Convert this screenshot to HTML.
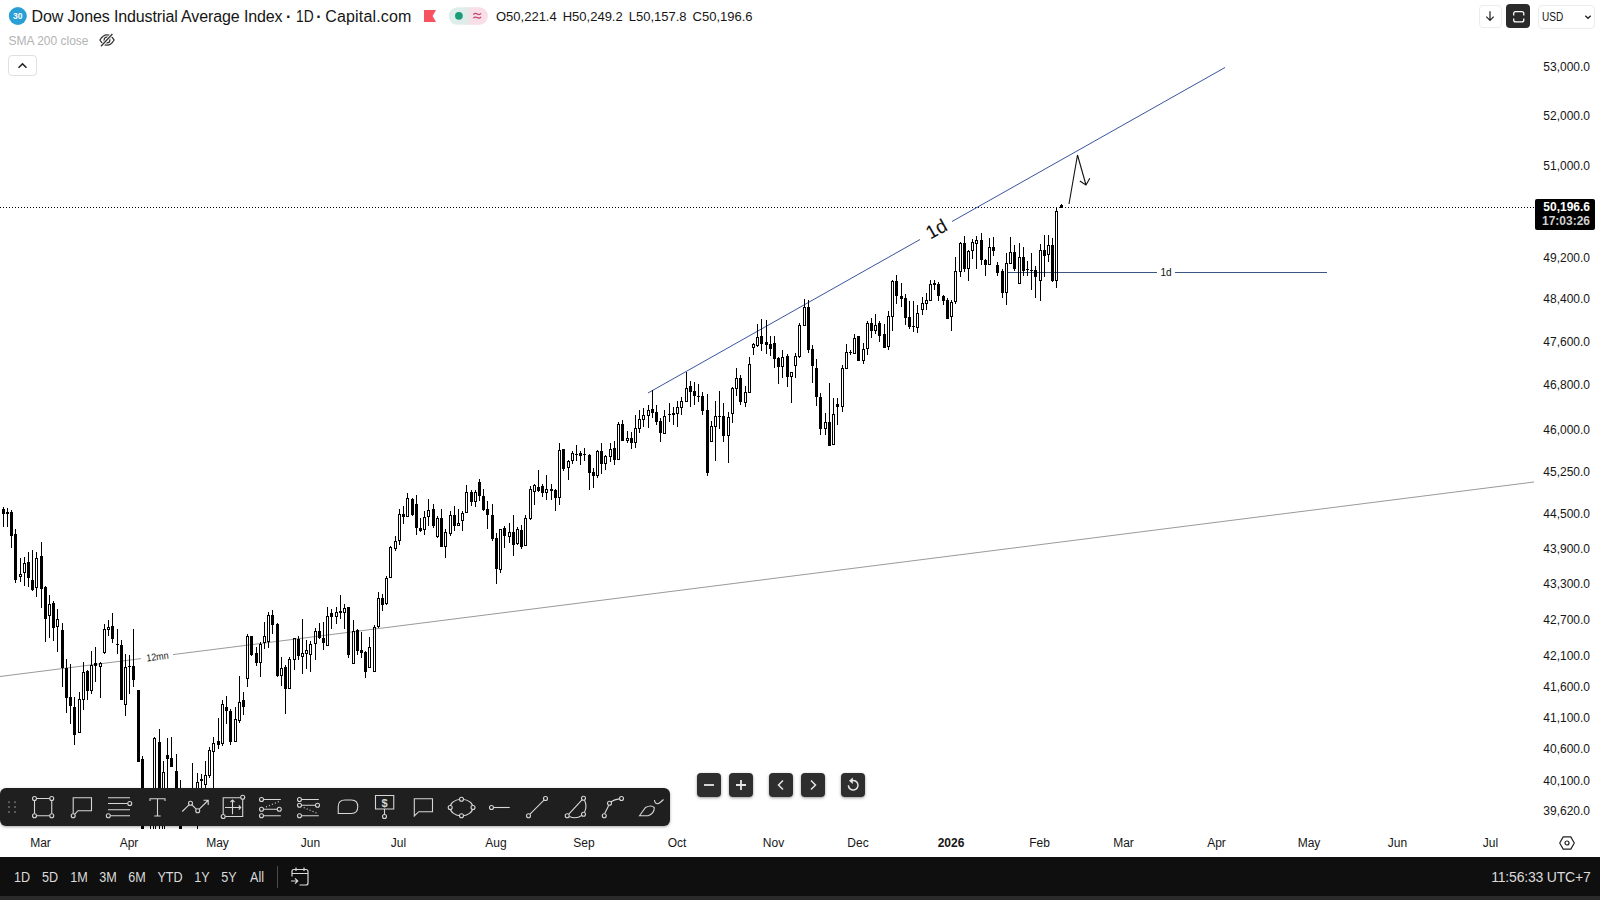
<!DOCTYPE html>
<html><head><meta charset="utf-8"><title>Dow Jones Industrial Average Index</title>
<style>
*{box-sizing:border-box;margin:0;padding:0}
html,body{width:1600px;height:900px;overflow:hidden;background:#fff}
body{position:relative;font-family:"Liberation Sans",sans-serif;color:#161616}
.abs{position:absolute}
#chart{position:absolute;left:0;top:0;width:1535px;height:829px;overflow:hidden}
.pl{position:absolute;left:1535px;width:55px;text-align:right;font-size:12px;line-height:16px;height:16px;color:#161616;white-space:nowrap}
.tl{position:absolute;top:835px;width:60px;text-align:center;font-size:12px;line-height:16px;color:#161616;white-space:nowrap}
.tl.b{font-weight:bold}
.rg{position:absolute;top:867px;width:40px;text-align:center;transform:scaleX(.9);font-size:14px;line-height:20px;color:#dbdbdb;white-space:nowrap}
#title span{position:absolute;top:0}
#title{position:absolute;left:0;top:7px;font-size:16px;line-height:20px;white-space:nowrap;color:#161616}
#ohlc{position:absolute;left:496px;top:9px;font-size:13px;line-height:16px;white-space:nowrap;color:#161616}
#ohlc span{margin-right:6px}
#sma{position:absolute;left:8.5px;top:33px;font-size:12px;line-height:16px;white-space:nowrap;color:#b3b3b3}
#bottom{position:absolute;left:0;top:857px;width:1600px;height:39px;background:#0f0f0f}
#strip{position:absolute;left:0;top:896px;width:1600px;height:4px;background:#2b2b2b}
#clock{position:absolute;right:9.5px;letter-spacing:-.2px;top:867px;font-size:14px;line-height:20px;color:#dbdbdb;white-space:nowrap}
#toolbar{position:absolute;left:0;top:788px;width:670px;height:38px;background:#1f1f1f;border-radius:6px;box-shadow:0 1px 3px rgba(0,0,0,.35)}
.zb{position:absolute;top:773px;width:24px;height:24px;border-radius:4px;background:#2e2e2e;box-shadow:0 1px 3px rgba(0,0,0,.4)}
#plabel{position:absolute;left:1535px;top:199px;width:60px;height:31px;background:#000;border-radius:2px;color:#fff;font-size:12px;font-weight:bold;text-align:right;padding-right:5px;line-height:14px;padding-top:.5px}
#plabel .t2{color:#d0d0d0}
.tb{position:absolute;border:1px solid #e0e0e0;border-radius:4px;background:#fff}
</style></head><body>
<svg id="chart" width="1535" height="829" viewBox="0 0 1535 829">
<path d="M0 207.5H1535" stroke="#000" stroke-width="1" stroke-dasharray="1 2" shape-rendering="crispEdges"/>
<path d="M1007 272.5H1156.5M1175 272.5H1326.5" stroke="#3a587f" stroke-width="1" shape-rendering="crispEdges"/>
<path d="M0 676.5L141 658.6M173 654.6L1534 482" stroke="#9a9a9a" stroke-width="1" fill="none"/>
<path d="M648 393L920 239.5M952 221.5L1225 67.5" stroke="#3a55a0" stroke-width="1" fill="none"/>
<g shape-rendering="crispEdges"><path d="M3 507h1v20h-1zM2 509h3v5h-3zM7 508h1v19h-1zM6 512h3v2h-3zM11 510h1v38h-1zM10 512h3v24h-3zM15 529h1v54h-1zM14 534h3v46h-3zM20 558h1v16h-1zM20 577h1v5h-1zM19 574h3v1h-3zM19 576h3v1h-3zM19 575h1v1h-1zM21 575h1v1h-1zM24 557h1v6h-1zM24 573h1v13h-1zM23 563h3v1h-3zM23 572h3v1h-3zM23 564h1v8h-1zM25 564h1v8h-1zM28 552h1v35h-1zM27 562h3v16h-3zM32 550h1v41h-1zM31 580h3v10h-3zM36 552h1v6h-1zM36 588h1v9h-1zM35 558h3v1h-3zM35 587h3v1h-3zM35 559h1v28h-1zM37 559h1v28h-1zM41 542h1v66h-1zM40 556h3v33h-3zM45 586h1v56h-1zM44 587h3v32h-3zM49 595h1v9h-1zM49 616h1v22h-1zM48 604h3v1h-3zM48 615h3v1h-3zM48 605h1v10h-1zM50 605h1v10h-1zM53 601h1v40h-1zM52 603h3v25h-3zM57 609h1v10h-1zM57 627h1v25h-1zM56 619h3v1h-3zM56 626h3v1h-3zM56 620h1v6h-1zM58 620h1v6h-1zM62 623h1v64h-1zM61 630h3v38h-3zM66 659h1v54h-1zM65 668h3v30h-3zM70 664h1v60h-1zM69 697h3v9h-3zM74 697h1v48h-1zM73 707h3v28h-3zM79 692h1v7h-1zM78 699h3v1h-3zM78 732h3v1h-3zM78 700h1v32h-1zM80 700h1v32h-1zM83 662h1v10h-1zM83 700h1v10h-1zM82 672h3v1h-3zM82 699h3v1h-3zM82 673h1v26h-1zM84 673h1v26h-1zM87 670h1v30h-1zM86 671h3v20h-3zM91 651h1v14h-1zM91 691h1v3h-1zM90 665h3v1h-3zM90 690h3v1h-3zM90 666h1v24h-1zM92 666h1v24h-1zM95 647h1v35h-1zM94 663h3v3h-3zM100 662h1v1h-1zM100 667h1v31h-1zM99 663h3v1h-3zM99 666h3v1h-3zM99 664h1v2h-1zM101 664h1v2h-1zM104 624h1v5h-1zM104 653h1v1h-1zM103 629h3v1h-3zM103 652h3v1h-3zM103 630h1v22h-1zM105 630h1v22h-1zM108 620h1v7h-1zM108 630h1v6h-1zM107 627h3v1h-3zM107 629h3v1h-3zM107 628h1v1h-1zM109 628h1v1h-1zM112 613h1v30h-1zM111 626h3v13h-3zM117 629h1v25h-1zM116 644h3v1h-3zM121 640h1v60h-1zM120 645h3v55h-3zM125 654h1v13h-1zM125 705h1v11h-1zM124 667h3v1h-3zM124 704h3v1h-3zM124 668h1v36h-1zM126 668h1v36h-1zM129 655h1v39h-1zM128 666h3v1h-3zM133 629h1v58h-1zM132 666h3v14h-3zM138 690h1v72h-1zM137 690h3v72h-3zM142 756h1v79h-1zM141 759h3v76h-3zM146 795h1v27h-1zM145 800h3v20h-3zM150 790h1v10h-1zM150 822h1v13h-1zM149 800h3v1h-3zM149 821h3v1h-3zM149 801h1v20h-1zM151 801h1v20h-1zM154 737h1v1h-1zM153 738h3v1h-3zM153 834h3v1h-3zM153 739h1v95h-1zM155 739h1v95h-1zM159 729h1v106h-1zM158 742h3v76h-3zM163 761h1v11h-1zM162 772h3v1h-3zM162 834h3v1h-3zM162 773h1v61h-1zM164 773h1v61h-1zM167 738h1v72h-1zM166 755h3v4h-3zM171 737h1v30h-1zM170 758h3v9h-3zM176 754h1v70h-1zM175 771h3v49h-3zM180 780h1v55h-1zM179 795h3v40h-3zM184 795h1v5h-1zM184 818h1v4h-1zM183 800h3v1h-3zM183 817h3v1h-3zM183 801h1v16h-1zM185 801h1v16h-1zM188 795h1v27h-1zM187 800h3v18h-3zM192 763h1v37h-1zM192 820h1v4h-1zM191 800h3v1h-3zM191 819h3v1h-3zM191 801h1v18h-1zM193 801h1v18h-1zM197 773h1v9h-1zM197 820h1v15h-1zM196 782h3v1h-3zM196 819h3v1h-3zM196 783h1v36h-1zM198 783h1v36h-1zM201 774h1v36h-1zM200 779h3v2h-3zM205 761h1v14h-1zM205 785h1v20h-1zM204 775h3v1h-3zM204 784h3v1h-3zM204 776h1v8h-1zM206 776h1v8h-1zM209 747h1v3h-1zM209 776h1v2h-1zM208 750h3v1h-3zM208 775h3v1h-3zM208 751h1v24h-1zM210 751h1v24h-1zM213 737h1v6h-1zM213 752h1v48h-1zM212 743h3v1h-3zM212 751h3v1h-3zM212 744h1v7h-1zM214 744h1v7h-1zM218 718h1v31h-1zM217 741h3v4h-3zM222 700h1v4h-1zM222 744h1v2h-1zM221 704h3v1h-3zM221 743h3v1h-3zM221 705h1v38h-1zM223 705h1v38h-1zM226 696h1v28h-1zM225 707h3v4h-3zM230 709h1v36h-1zM229 711h3v31h-3zM235 707h1v12h-1zM234 719h3v1h-3zM234 741h3v1h-3zM234 720h1v21h-1zM236 720h1v21h-1zM239 676h1v26h-1zM239 721h1v2h-1zM238 702h3v1h-3zM238 720h3v1h-3zM238 703h1v17h-1zM240 703h1v17h-1zM243 692h1v23h-1zM242 700h3v7h-3zM247 634h1v2h-1zM247 679h1v8h-1zM246 636h3v1h-3zM246 678h3v1h-3zM246 637h1v41h-1zM248 637h1v41h-1zM251 636h1v20h-1zM250 636h3v19h-3zM256 647h1v19h-1zM255 653h3v10h-3zM260 642h1v2h-1zM260 663h1v14h-1zM259 644h3v1h-3zM259 662h3v1h-3zM259 645h1v17h-1zM261 645h1v17h-1zM264 622h1v14h-1zM264 643h1v6h-1zM263 636h3v1h-3zM263 642h3v1h-3zM263 637h1v5h-1zM265 637h1v5h-1zM268 612h1v3h-1zM268 642h1v6h-1zM267 615h3v1h-3zM267 641h3v1h-3zM267 616h1v25h-1zM269 616h1v25h-1zM272 610h1v24h-1zM271 615h3v10h-3zM277 623h1v54h-1zM276 624h3v52h-3zM281 657h1v11h-1zM281 676h1v10h-1zM280 668h3v1h-3zM280 675h3v1h-3zM280 669h1v6h-1zM282 669h1v6h-1zM285 665h1v49h-1zM284 667h3v22h-3zM289 657h1v2h-1zM288 659h3v1h-3zM288 688h3v1h-3zM288 660h1v28h-1zM290 660h1v28h-1zM294 660h1v10h-1zM293 638h3v1h-3zM293 659h3v1h-3zM293 639h1v20h-1zM295 639h1v20h-1zM298 636h1v24h-1zM297 639h3v17h-3zM302 619h1v34h-1zM302 657h1v17h-1zM301 653h3v1h-3zM301 656h3v1h-3zM301 654h1v2h-1zM303 654h1v2h-1zM306 640h1v10h-1zM306 654h1v15h-1zM305 650h3v1h-3zM305 653h3v1h-3zM305 651h1v2h-1zM307 651h1v2h-1zM310 641h1v3h-1zM310 655h1v17h-1zM309 644h3v1h-3zM309 654h3v1h-3zM309 645h1v9h-1zM311 645h1v9h-1zM315 628h1v3h-1zM315 644h1v16h-1zM314 631h3v1h-3zM314 643h3v1h-3zM314 632h1v11h-1zM316 632h1v11h-1zM319 623h1v16h-1zM318 631h3v7h-3zM323 622h1v28h-1zM322 638h3v5h-3zM327 607h1v9h-1zM326 616h3v1h-3zM326 645h3v1h-3zM326 617h1v28h-1zM328 617h1v28h-1zM331 609h1v20h-1zM330 613h3v4h-3zM336 607h1v5h-1zM336 617h1v7h-1zM335 612h3v1h-3zM335 616h3v1h-3zM335 613h1v3h-1zM337 613h1v3h-1zM340 595h1v24h-1zM339 611h3v2h-3zM344 604h1v4h-1zM344 613h1v16h-1zM343 608h3v1h-3zM343 612h3v1h-3zM343 609h1v3h-1zM345 609h1v3h-1zM348 607h1v51h-1zM347 607h3v48h-3zM353 620h1v11h-1zM352 631h3v1h-3zM352 663h3v1h-3zM352 632h1v31h-1zM354 632h1v31h-1zM357 629h1v26h-1zM356 630h3v21h-3zM361 632h1v26h-1zM360 650h3v3h-3zM365 651h1v27h-1zM364 652h3v20h-3zM369 637h1v10h-1zM368 647h3v1h-3zM368 667h3v1h-3zM368 648h1v19h-1zM370 648h1v19h-1zM374 625h1v2h-1zM373 627h3v1h-3zM373 671h3v1h-3zM373 628h1v43h-1zM375 628h1v43h-1zM378 592h1v6h-1zM378 627h1v1h-1zM377 598h3v1h-3zM377 626h3v1h-3zM377 599h1v27h-1zM379 599h1v27h-1zM382 594h1v17h-1zM381 598h3v7h-3zM386 576h1v2h-1zM386 604h1v1h-1zM385 578h3v1h-3zM385 603h3v1h-3zM385 579h1v24h-1zM387 579h1v24h-1zM390 546h1v1h-1zM389 547h3v1h-3zM389 577h3v1h-3zM389 548h1v29h-1zM391 548h1v29h-1zM395 536h1v5h-1zM395 549h1v2h-1zM394 541h3v1h-3zM394 548h3v1h-3zM394 542h1v6h-1zM396 542h1v6h-1zM399 509h1v5h-1zM399 541h1v4h-1zM398 514h3v1h-3zM398 540h3v1h-3zM398 515h1v25h-1zM400 515h1v25h-1zM403 506h1v18h-1zM402 514h3v3h-3zM407 493h1v5h-1zM406 498h3v1h-3zM406 516h3v1h-3zM406 499h1v17h-1zM408 499h1v17h-1zM412 498h1v18h-1zM411 499h3v16h-3zM416 495h1v40h-1zM415 504h3v24h-3zM420 518h1v14h-1zM419 528h3v3h-3zM424 511h1v6h-1zM424 530h1v5h-1zM423 517h3v1h-3zM423 529h3v1h-3zM423 518h1v11h-1zM425 518h1v11h-1zM428 499h1v11h-1zM428 517h1v9h-1zM427 510h3v1h-3zM427 516h3v1h-3zM427 511h1v5h-1zM429 511h1v5h-1zM433 504h1v24h-1zM432 509h3v17h-3zM437 516h1v2h-1zM437 537h1v1h-1zM436 518h3v1h-3zM436 536h3v1h-3zM436 519h1v17h-1zM438 519h1v17h-1zM441 509h1v38h-1zM440 518h3v29h-3zM445 529h1v3h-1zM445 547h1v11h-1zM444 532h3v1h-3zM444 546h3v1h-3zM444 533h1v13h-1zM446 533h1v13h-1zM450 511h1v4h-1zM450 534h1v2h-1zM449 515h3v1h-3zM449 533h3v1h-3zM449 516h1v17h-1zM451 516h1v17h-1zM454 506h1v25h-1zM453 515h3v11h-3zM458 509h1v14h-1zM457 523h3v1h-3zM457 525h3v1h-3zM457 524h1v1h-1zM459 524h1v1h-1zM462 511h1v2h-1zM462 521h1v10h-1zM461 513h3v1h-3zM461 520h3v1h-3zM461 514h1v6h-1zM463 514h1v6h-1zM466 485h1v7h-1zM465 492h3v1h-3zM465 512h3v1h-3zM465 493h1v19h-1zM467 493h1v19h-1zM471 490h1v16h-1zM470 492h3v10h-3zM475 490h1v2h-1zM475 502h1v5h-1zM474 492h3v1h-3zM474 501h3v1h-3zM474 493h1v8h-1zM476 493h1v8h-1zM479 479h1v22h-1zM478 482h3v14h-3zM483 489h1v22h-1zM482 496h3v14h-3zM487 501h1v28h-1zM486 509h3v6h-3zM492 504h1v37h-1zM491 515h3v24h-3zM496 533h1v51h-1zM495 538h3v31h-3zM500 570h1v3h-1zM499 529h3v1h-3zM499 569h3v1h-3zM499 530h1v39h-1zM501 530h1v39h-1zM504 526h1v22h-1zM503 528h3v8h-3zM509 523h1v9h-1zM509 537h1v6h-1zM508 532h3v1h-3zM508 536h3v1h-3zM508 533h1v3h-1zM510 533h1v3h-1zM513 515h1v41h-1zM512 532h3v13h-3zM517 527h1v2h-1zM517 544h1v1h-1zM516 529h3v1h-3zM516 543h3v1h-3zM516 530h1v13h-1zM518 530h1v13h-1zM521 525h1v24h-1zM520 530h3v17h-3zM525 515h1v3h-1zM524 518h3v1h-3zM524 545h3v1h-3zM524 519h1v26h-1zM526 519h1v26h-1zM530 486h1v3h-1zM530 519h1v1h-1zM529 489h3v1h-3zM529 518h3v1h-3zM529 490h1v28h-1zM531 490h1v28h-1zM534 484h1v1h-1zM534 492h1v13h-1zM533 485h3v1h-3zM533 491h3v1h-3zM533 486h1v5h-1zM535 486h1v5h-1zM538 470h1v22h-1zM537 487h3v4h-3zM542 484h1v13h-1zM541 486h3v7h-3zM546 475h1v14h-1zM546 493h1v7h-1zM545 489h3v1h-3zM545 492h3v1h-3zM545 490h1v2h-1zM547 490h1v2h-1zM551 484h1v16h-1zM550 489h3v2h-3zM555 489h1v22h-1zM554 490h3v8h-3zM559 443h1v7h-1zM559 498h1v7h-1zM558 450h3v1h-3zM558 497h3v1h-3zM558 451h1v46h-1zM560 451h1v46h-1zM563 449h1v22h-1zM562 449h3v20h-3zM568 460h1v1h-1zM568 468h1v12h-1zM567 461h3v1h-3zM567 467h3v1h-3zM567 462h1v5h-1zM569 462h1v5h-1zM572 451h1v2h-1zM572 461h1v3h-1zM571 453h3v1h-3zM571 460h3v1h-3zM571 454h1v6h-1zM573 454h1v6h-1zM576 445h1v16h-1zM575 454h3v1h-3zM580 451h1v14h-1zM579 453h3v3h-3zM584 448h1v13h-1zM583 454h3v1h-3zM589 454h1v36h-1zM588 455h3v18h-3zM593 468h1v20h-1zM592 472h3v4h-3zM597 450h1v1h-1zM597 476h1v2h-1zM596 451h3v1h-3zM596 475h3v1h-3zM596 452h1v23h-1zM598 452h1v23h-1zM601 443h1v31h-1zM600 451h3v13h-3zM605 455h1v1h-1zM605 464h1v6h-1zM604 456h3v1h-3zM604 463h3v1h-3zM604 457h1v6h-1zM606 457h1v6h-1zM610 443h1v6h-1zM610 457h1v5h-1zM609 449h3v1h-3zM609 456h3v1h-3zM609 450h1v6h-1zM611 450h1v6h-1zM614 441h1v24h-1zM613 448h3v12h-3zM618 422h1v2h-1zM617 424h3v1h-3zM617 459h3v1h-3zM617 425h1v34h-1zM619 425h1v34h-1zM622 420h1v21h-1zM621 424h3v17h-3zM627 431h1v7h-1zM627 441h1v2h-1zM626 438h3v1h-3zM626 440h3v1h-3zM626 439h1v1h-1zM628 439h1v1h-1zM631 432h1v17h-1zM630 438h3v5h-3zM635 415h1v13h-1zM635 443h1v5h-1zM634 428h3v1h-3zM634 442h3v1h-3zM634 429h1v13h-1zM636 429h1v13h-1zM639 410h1v9h-1zM639 429h1v4h-1zM638 419h3v1h-3zM638 428h3v1h-3zM638 420h1v8h-1zM640 420h1v8h-1zM643 408h1v7h-1zM643 420h1v7h-1zM642 415h3v1h-3zM642 419h3v1h-3zM642 416h1v3h-1zM644 416h1v3h-1zM648 405h1v5h-1zM648 416h1v12h-1zM647 410h3v1h-3zM647 415h3v1h-3zM647 411h1v4h-1zM649 411h1v4h-1zM652 390h1v28h-1zM651 409h3v4h-3zM656 405h1v20h-1zM655 412h3v10h-3zM660 418h1v24h-1zM659 421h3v12h-3zM664 410h1v6h-1zM663 416h3v1h-3zM663 433h3v1h-3zM663 417h1v16h-1zM665 417h1v16h-1zM669 403h1v19h-1zM668 414h3v1h-3zM673 407h1v18h-1zM672 413h3v2h-3zM677 401h1v6h-1zM677 414h1v13h-1zM676 407h3v1h-3zM676 413h3v1h-3zM676 408h1v5h-1zM678 408h1v5h-1zM681 397h1v4h-1zM681 408h1v7h-1zM680 401h3v1h-3zM680 407h3v1h-3zM680 402h1v5h-1zM682 402h1v5h-1zM686 372h1v16h-1zM685 388h3v1h-3zM685 401h3v1h-3zM685 389h1v12h-1zM687 389h1v12h-1zM690 381h1v26h-1zM689 386h3v6h-3zM694 382h1v23h-1zM693 391h3v5h-3zM698 384h1v18h-1zM697 396h3v1h-3zM702 392h1v23h-1zM701 396h3v15h-3zM707 394h1v82h-1zM706 410h3v63h-3zM711 421h1v5h-1zM710 426h3v1h-3zM710 441h3v1h-3zM710 427h1v14h-1zM712 427h1v14h-1zM715 401h1v15h-1zM715 427h1v34h-1zM714 416h3v1h-3zM714 426h3v1h-3zM714 417h1v9h-1zM716 417h1v9h-1zM719 391h1v38h-1zM718 416h3v1h-3zM723 403h1v39h-1zM722 416h3v20h-3zM728 412h1v5h-1zM728 436h1v27h-1zM727 417h3v1h-3zM727 435h3v1h-3zM727 418h1v17h-1zM729 418h1v17h-1zM732 387h1v1h-1zM732 414h1v9h-1zM731 388h3v1h-3zM731 413h3v1h-3zM731 389h1v24h-1zM733 389h1v24h-1zM736 368h1v10h-1zM736 389h1v7h-1zM735 378h3v1h-3zM735 388h3v1h-3zM735 379h1v9h-1zM737 379h1v9h-1zM740 375h1v30h-1zM739 378h3v24h-3zM745 386h1v6h-1zM745 403h1v4h-1zM744 392h3v1h-3zM744 402h3v1h-3zM744 393h1v9h-1zM746 393h1v9h-1zM749 357h1v7h-1zM748 364h3v1h-3zM748 392h3v1h-3zM748 365h1v27h-1zM750 365h1v27h-1zM753 343h1v1h-1zM753 348h1v7h-1zM752 344h3v1h-3zM752 347h3v1h-3zM752 345h1v2h-1zM754 345h1v2h-1zM757 324h1v13h-1zM757 346h1v1h-1zM756 337h3v1h-3zM756 345h3v1h-3zM756 338h1v7h-1zM758 338h1v7h-1zM761 319h1v32h-1zM760 336h3v8h-3zM766 320h1v34h-1zM765 342h3v3h-3zM770 336h1v20h-1zM769 344h3v5h-3zM774 336h1v32h-1zM773 343h3v16h-3zM778 357h1v27h-1zM777 358h3v9h-3zM782 350h1v7h-1zM782 367h1v11h-1zM781 357h3v1h-3zM781 366h3v1h-3zM781 358h1v8h-1zM783 358h1v8h-1zM787 354h1v33h-1zM786 356h3v21h-3zM791 377h1v26h-1zM790 372h3v1h-3zM790 376h3v1h-3zM790 373h1v3h-1zM792 373h1v3h-1zM795 353h1v3h-1zM795 366h1v12h-1zM794 356h3v1h-3zM794 365h3v1h-3zM794 357h1v8h-1zM796 357h1v8h-1zM799 323h1v2h-1zM799 357h1v1h-1zM798 325h3v1h-3zM798 356h3v1h-3zM798 326h1v30h-1zM800 326h1v30h-1zM804 299h1v8h-1zM803 307h3v1h-3zM803 325h3v1h-3zM803 308h1v17h-1zM805 308h1v17h-1zM808 300h1v53h-1zM807 307h3v43h-3zM812 345h1v38h-1zM811 349h3v17h-3zM816 359h1v47h-1zM815 368h3v29h-3zM820 393h1v42h-1zM819 397h3v32h-3zM825 413h1v9h-1zM825 429h1v6h-1zM824 422h3v1h-3zM824 428h3v1h-3zM824 423h1v5h-1zM826 423h1v5h-1zM829 383h1v63h-1zM828 422h3v24h-3zM833 398h1v16h-1zM832 414h3v1h-3zM832 444h3v1h-3zM832 415h1v29h-1zM834 415h1v29h-1zM837 398h1v27h-1zM836 404h3v3h-3zM842 365h1v3h-1zM842 407h1v5h-1zM841 368h3v1h-3zM841 406h3v1h-3zM841 369h1v37h-1zM843 369h1v37h-1zM846 344h1v8h-1zM845 352h3v1h-3zM845 368h3v1h-3zM845 353h1v15h-1zM847 353h1v15h-1zM850 350h1v5h-1zM849 352h3v1h-3zM854 334h1v4h-1zM853 338h3v1h-3zM853 353h3v1h-3zM853 339h1v14h-1zM855 339h1v14h-1zM858 336h1v25h-1zM857 336h3v25h-3zM863 343h1v6h-1zM863 361h1v3h-1zM862 349h3v1h-3zM862 360h3v1h-3zM862 350h1v10h-1zM864 350h1v10h-1zM867 321h1v2h-1zM867 349h1v6h-1zM866 323h3v1h-3zM866 348h3v1h-3zM866 324h1v24h-1zM868 324h1v24h-1zM871 318h1v20h-1zM870 323h3v8h-3zM875 314h1v11h-1zM875 331h1v3h-1zM874 325h3v1h-3zM874 330h3v1h-3zM874 326h1v4h-1zM876 326h1v4h-1zM879 321h1v21h-1zM878 323h3v13h-3zM884 324h1v24h-1zM883 334h3v14h-3zM888 311h1v5h-1zM888 347h1v3h-1zM887 316h3v1h-3zM887 346h3v1h-3zM887 317h1v29h-1zM889 317h1v29h-1zM892 280h1v1h-1zM892 317h1v14h-1zM891 281h3v1h-3zM891 316h3v1h-3zM891 282h1v34h-1zM893 282h1v34h-1zM896 275h1v29h-1zM895 281h3v15h-3zM901 283h1v24h-1zM900 296h3v3h-3zM905 294h1v31h-1zM904 298h3v20h-3zM909 301h1v28h-1zM908 317h3v10h-3zM913 301h1v31h-1zM912 326h3v1h-3zM917 305h1v8h-1zM917 328h1v5h-1zM916 313h3v1h-3zM916 327h3v1h-3zM916 314h1v13h-1zM918 314h1v13h-1zM922 297h1v6h-1zM922 310h1v5h-1zM921 303h3v1h-3zM921 309h3v1h-3zM921 304h1v5h-1zM923 304h1v5h-1zM926 293h1v7h-1zM926 304h1v6h-1zM925 300h3v1h-3zM925 303h3v1h-3zM925 301h1v2h-1zM927 301h1v2h-1zM930 280h1v4h-1zM929 284h3v1h-3zM929 300h3v1h-3zM929 285h1v15h-1zM931 285h1v15h-1zM934 280h1v10h-1zM933 283h3v2h-3zM938 282h1v19h-1zM937 284h3v12h-3zM943 295h1v10h-1zM942 296h3v5h-3zM947 298h1v21h-1zM946 300h3v19h-3zM951 300h1v2h-1zM951 317h1v14h-1zM950 302h3v1h-3zM950 316h3v1h-3zM950 303h1v13h-1zM952 303h1v13h-1zM955 257h1v14h-1zM955 302h1v2h-1zM954 271h3v1h-3zM954 301h3v1h-3zM954 272h1v29h-1zM956 272h1v29h-1zM960 242h1v1h-1zM960 272h1v5h-1zM959 243h3v1h-3zM959 271h3v1h-3zM959 244h1v27h-1zM961 244h1v27h-1zM964 236h1v36h-1zM963 243h3v26h-3zM968 250h1v1h-1zM968 269h1v12h-1zM967 251h3v1h-3zM967 268h3v1h-3zM967 252h1v16h-1zM969 252h1v16h-1zM972 239h1v3h-1zM972 251h1v8h-1zM971 242h3v1h-3zM971 250h3v1h-3zM971 243h1v7h-1zM973 243h1v7h-1zM976 236h1v4h-1zM976 244h1v25h-1zM975 240h3v1h-3zM975 243h3v1h-3zM975 241h1v2h-1zM977 241h1v2h-1zM981 233h1v32h-1zM980 240h3v20h-3zM985 259h1v17h-1zM984 260h3v5h-3zM989 238h1v9h-1zM988 247h3v1h-3zM988 264h3v1h-3zM988 248h1v16h-1zM990 248h1v16h-1zM993 237h1v19h-1zM992 247h3v4h-3zM997 262h1v14h-1zM996 265h3v8h-3zM1002 269h1v29h-1zM1001 271h3v22h-3zM1006 253h1v10h-1zM1006 293h1v12h-1zM1005 263h3v1h-3zM1005 292h3v1h-3zM1005 264h1v28h-1zM1007 264h1v28h-1zM1010 237h1v15h-1zM1009 252h3v1h-3zM1009 263h3v1h-3zM1009 253h1v10h-1zM1011 253h1v10h-1zM1014 245h1v26h-1zM1013 252h3v17h-3zM1019 243h1v14h-1zM1018 257h3v1h-3zM1018 283h3v1h-3zM1018 258h1v25h-1zM1020 258h1v25h-1zM1023 247h1v29h-1zM1022 257h3v14h-3zM1027 261h1v15h-1zM1026 269h3v1h-3zM1031 253h1v37h-1zM1030 270h3v1h-3zM1035 266h1v32h-1zM1034 270h3v7h-3zM1040 244h1v6h-1zM1040 281h1v20h-1zM1039 250h3v1h-3zM1039 280h3v1h-3zM1039 251h1v29h-1zM1041 251h1v29h-1zM1044 235h1v42h-1zM1043 250h3v6h-3zM1048 235h1v10h-1zM1048 255h1v7h-1zM1047 245h3v1h-3zM1047 254h3v1h-3zM1047 246h1v8h-1zM1049 246h1v8h-1zM1052 238h1v44h-1zM1051 245h3v36h-3zM1056 208h1v3h-1zM1056 281h1v7h-1zM1055 211h3v1h-3zM1055 280h3v1h-3zM1055 212h1v68h-1zM1057 212h1v68h-1zM1061 204h1v4h-1zM1060 205h3v3h-3z" fill="#000"/></g>
<path d="M1069 204L1077.5 155L1086 185M1079.8 181L1086 185L1089.8 178.2" stroke="#111" stroke-width="1.1" fill="none" stroke-linejoin="miter"/>
<text x="936.3" y="229" font-family="Liberation Sans, sans-serif" font-size="19" fill="#111" text-anchor="middle" dominant-baseline="central" transform="rotate(-29.4 936.3 229)">1d</text>
<text x="157.4" y="656.6" font-family="Liberation Sans, sans-serif" font-size="10" fill="#222" text-anchor="middle" dominant-baseline="central" textLength="22.5" lengthAdjust="spacingAndGlyphs" transform="rotate(-7.2 157.4 656.6)">12mn</text>
<text x="1166" y="272.8" font-family="Liberation Sans, sans-serif" font-size="10" fill="#111" text-anchor="middle" dominant-baseline="central">1d</text>
</svg>

<div class="pl" style="top:59px">53,000.0</div><div class="pl" style="top:108px">52,000.0</div><div class="pl" style="top:158px">51,000.0</div><div class="pl" style="top:250px">49,200.0</div><div class="pl" style="top:291px">48,400.0</div><div class="pl" style="top:334px">47,600.0</div><div class="pl" style="top:377px">46,800.0</div><div class="pl" style="top:422px">46,000.0</div><div class="pl" style="top:464px">45,250.0</div><div class="pl" style="top:506px">44,500.0</div><div class="pl" style="top:541px">43,900.0</div><div class="pl" style="top:576px">43,300.0</div><div class="pl" style="top:612px">42,700.0</div><div class="pl" style="top:648px">42,100.0</div><div class="pl" style="top:679px">41,600.0</div><div class="pl" style="top:710px">41,100.0</div><div class="pl" style="top:741px">40,600.0</div><div class="pl" style="top:773px">40,100.0</div><div class="pl" style="top:803px">39,620.0</div>
<div id="plabel"><div>50,196.6</div><div class="t2">17:03:26</div></div>

<!-- header -->
<svg class="abs" style="left:8px;top:6px" width="20" height="20" viewBox="0 0 20 20"><circle cx="9.8" cy="10" r="9" fill="#2a9fd6"/><text x="9.8" y="10.3" font-family="Liberation Sans, sans-serif" font-size="8.5" font-weight="bold" fill="#fff" text-anchor="middle" dominant-baseline="central">30</text></svg>
<div id="title"><span style="left:31.5px;letter-spacing:-.118px">Dow Jones Industrial Average Index</span><span style="left:286px;font-weight:bold">·</span><span style="left:295.5px;transform:scaleX(.86);transform-origin:0 0">1D</span><span style="left:316.3px;font-weight:bold">·</span><span style="left:325.2px;letter-spacing:.17px">Capital.com</span></div>
<svg class="abs" style="left:424px;top:10px" width="12" height="12" viewBox="0 0 12 12"><path d="M0 0H12L8.6 6L12 12H0z" fill="#f7525f"/></svg>
<svg class="abs" style="left:448px;top:7px" width="41" height="18" viewBox="0 0 41 18"><defs><linearGradient id="pg" x1="0" x2="1" y1="0" y2="0"><stop offset="0" stop-color="#dcefeb"/><stop offset=".42" stop-color="#e0ecea"/><stop offset=".58" stop-color="#f6dfe7"/><stop offset="1" stop-color="#fbdde7"/></linearGradient></defs><rect x=".7" y=".2" width="39.2" height="17.6" rx="8.8" fill="url(#pg)"/><circle cx="10.9" cy="8.8" r="3.9" fill="#1a9c78"/><path d="M25.3 7.6q1.9-2 3.9-.6t3.9-.6M25.3 11.2q1.9-2 3.9-.6t3.9-.6" stroke="#c2456f" stroke-width="1.2" fill="none"/></svg>
<div id="ohlc"><span>O50,221.4</span><span>H50,249.2</span><span>L50,157.8</span><span>C50,196.6</span></div>
<div id="sma">SMA 200 close</div>
<svg class="abs" style="left:98px;top:32px" width="19" height="16" viewBox="0 0 19 16"><path d="M1.9 8Q5 2.8 9 2.8T16.1 8Q13 13.2 9 13.2T1.9 8z" stroke="#333" stroke-width="1.3" fill="none"/><circle cx="9" cy="8" r="2.9" stroke="#333" stroke-width="1.2" fill="none"/><path d="M3.2 14.3L14.600 1.700" stroke="#fff" stroke-width="3.2"/><path d="M3 14.200L14.400 2" stroke="#333" stroke-width="1.3"/></svg>
<div class="tb" style="left:8px;top:55px;width:29px;height:21px"></div>
<svg class="abs" style="left:8px;top:55px" width="29" height="21" viewBox="0 0 29 21"><path d="M10.5 12.700L14.5 8.900L18.500 12.700" stroke="#222" stroke-width="1.5" fill="none"/></svg>

<!-- top right -->
<div class="tb" style="left:1478.500px;top:4.500px;width:23px;height:23px;border-color:#ececec"></div>
<svg class="abs" style="left:1478px;top:4px" width="24" height="24" viewBox="0 0 24 24"><path d="M12 7.300V16.300M8.300 12.600L12 16.300L15.700 12.600" stroke="#222" stroke-width="1.200" fill="none"/></svg>
<div class="abs" style="left:1506px;top:4px;width:24px;height:24px;border-radius:4px;background:#2a2a2a"></div>
<svg class="abs" style="left:1506px;top:4px" width="24" height="24" viewBox="0 0 24 24"><path d="M7.700 11.600V9.600Q7.700 7.600 9.700 7.600H15.800Q17.800 7.600 17.800 9.600V11.600M7.700 14.500V15.900Q7.700 17.900 9.700 17.900H15.800Q17.800 17.900 17.800 15.900V14.500" stroke="#fff" stroke-width="1.250" fill="none"/></svg>
<div class="tb" style="left:1538px;top:4.500px;width:57px;height:24px;border-color:#ececec"></div>
<div class="abs" style="left:1542px;top:8.500px;font-size:12px;line-height:16px;color:#161616;transform:scaleX(.84);transform-origin:0 0">USD</div>
<svg class="abs" style="left:1583px;top:12px" width="10" height="10" viewBox="0 0 10 10"><path d="M2.300 3.800L5 6.300L7.700 3.800" stroke="#222" stroke-width="1.300" fill="none"/></svg>

<!-- time axis -->
<div class="tl" style="left:10.5px">Mar</div><div class="tl" style="left:99px">Apr</div><div class="tl" style="left:187.5px">May</div><div class="tl" style="left:280.5px">Jun</div><div class="tl" style="left:368.5px">Jul</div><div class="tl" style="left:466px">Aug</div><div class="tl" style="left:554px">Sep</div><div class="tl" style="left:647px">Oct</div><div class="tl" style="left:743.5px">Nov</div><div class="tl" style="left:828px">Dec</div><div class="tl b" style="left:921px">2026</div><div class="tl" style="left:1009.5px">Feb</div><div class="tl" style="left:1093.5px">Mar</div><div class="tl" style="left:1186.5px">Apr</div><div class="tl" style="left:1279px">May</div><div class="tl" style="left:1367.5px">Jun</div><div class="tl" style="left:1460.5px">Jul</div>
<svg class="abs" style="left:1558px;top:834px" width="18" height="18" viewBox="0 0 18 18"><path d="M5.200 2.900H12.800L16.300 9L12.800 15.100H5.200L1.700 9z" stroke="#222" stroke-width="1.200" fill="none" stroke-linejoin="round"/><circle cx="9" cy="9" r="2" stroke="#222" stroke-width="1.200" fill="none"/></svg>

<!-- zoom buttons -->
<div class="zb" style="left:697px"></div><div class="zb" style="left:729px"></div><div class="zb" style="left:769px"></div><div class="zb" style="left:801px"></div><div class="zb" style="left:841px"></div>
<svg class="abs" style="left:697px;top:773px" width="170" height="24" viewBox="0 0 170 24" fill="none" stroke="#e6e6e6">
<path d="M7 12H17" stroke-width="1.800"/>
<path d="M39 12H49M44 7V17" stroke-width="1.800"/>
<path d="M86 7.500L81.500 12L86 16.500" stroke-width="1.500"/>
<path d="M114 7.500L118.500 12L114 16.500" stroke-width="1.500"/>
<path d="M154.500 7.800A4.800 4.800 0 1 1 151.400 12.300" stroke-width="1.500"/>
<path d="M155.800 4.600L152 7.800L155.800 11z" fill="#e6e6e6" stroke="none"/>
</svg>

<!-- toolbar -->
<div id="toolbar"></div>
<svg class="abs" style="left:0;top:788px" width="670" height="38" viewBox="0 788 670 38" fill="none" stroke="#d6d6d6" stroke-width="1.100">
<g fill="#5a5a5a" stroke="none"><rect x="8" y="801.200" width="2" height="2"/><rect x="14" y="801.200" width="2" height="2"/><rect x="8" y="806" width="2" height="2"/><rect x="14" y="806" width="2" height="2"/><rect x="8" y="811" width="2" height="2"/><rect x="14" y="811" width="2" height="2"/></g>
<!-- 2 rectangle -->
<path d="M36.700 798.500H49.500M36.700 815.700H49.500M34.500 800.700V813.500M51.750 800.700V813.500"/>
<circle cx="34.500" cy="798.500" r="2"/><circle cx="51.750" cy="798.500" r="2"/><circle cx="34.500" cy="815.700" r="2"/><circle cx="51.750" cy="815.700" r="2"/>
<!-- 3 callout -->
<path d="M73.200 813.500V797.700H91.500V810.750H78L74.800 814.200"/><circle cx="73.200" cy="815.700" r="2"/>
<!-- 4 lines -->
<path d="M108 797.700H130M108 803.500H127.500M108 809.700H130M110.500 815.700H130"/><circle cx="129.750" cy="803.500" r="2" fill="#1f1f1f"/><circle cx="108.300" cy="815.700" r="2" fill="#1f1f1f"/>
<!-- 5 T -->
<path d="M150 801V798.750H165V801M157.500 798.750V816M154.300 816H160.700"/>
<!-- 6 zigzag -->
<path d="M182.250 811.500L189 804.800M192 804.800L196.200 809.200M199.300 809.200L208.200 800.250M203.500 800.250H208.200V805"/><circle cx="190.500" cy="803.250" r="2"/><circle cx="197.700" cy="810.750" r="2"/>
<!-- 7 box arrows -->
<path d="M223.200 814.300V797.750H240.500M242.700 799.500V816.500H225.400M232.500 800V814.250M225 807.500H240.750M230.500 802L232.500 800L234.500 802M238.750 805.500L240.750 807.500L238.750 809.500"/><circle cx="242.700" cy="797.300" r="2"/><circle cx="223.200" cy="816.500" r="2"/>
<!-- 8 -->
<path d="M263.700 799.500H280.800M263.700 809.300H277.100M263.700 815.750H280.800"/><path d="M266 807L279 801.500" stroke-dasharray="1 2.200"/><circle cx="261.500" cy="799.500" r="2"/><circle cx="261.500" cy="809.300" r="2"/><circle cx="279.300" cy="809.300" r="2"/><circle cx="261.500" cy="815.750" r="2"/>
<!-- 9 -->
<path d="M301.700 799.500H318.800M301.700 805.250H315.300M301.700 815.750H318.800"/><path d="M303.750 807.500L316.800 813.200" stroke-dasharray="1 2.200"/><circle cx="299.500" cy="799.500" r="2"/><circle cx="299.500" cy="805.250" r="2"/><circle cx="317.500" cy="805.250" r="2"/><circle cx="299.500" cy="815.750" r="2"/>
<!-- 10 rounded shape -->
<path d="M338.250 813.500V806.500Q338.250 800 345 800H351.500Q357.750 800 357.750 806.750T351.500 813.500z"/>
<!-- 11 $ box -->
<path d="M375.500 795.500H393.750V809H375.500zM384.500 809V814.300"/><circle cx="384.500" cy="816.500" r="2"/>
<text x="384.600" y="802.600" font-family="Liberation Sans, sans-serif" font-size="11" font-weight="bold" fill="#d6d6d6" stroke="none" text-anchor="middle" dominant-baseline="central">$</text>
<!-- 12 comment -->
<path d="M414.300 816V798.800H432.500V811.700H418.800z"/>
<!-- 13 ellipse -->
<ellipse cx="461.500" cy="807.500" rx="11.400" ry="8.250"/><circle cx="450.200" cy="807.500" r="2" fill="#1f1f1f"/><circle cx="473" cy="807.500" r="2" fill="#1f1f1f"/><circle cx="461.500" cy="799.250" r="2" fill="#1f1f1f"/><circle cx="461.500" cy="815.750" r="2" fill="#1f1f1f"/>
<!-- 14 ray -->
<path d="M493.700 807.500H509.750"/><circle cx="491.500" cy="807.500" r="2"/>
<!-- 15 trend -->
<path d="M530 814.200L544 800.100"/><circle cx="528.500" cy="815.750" r="2"/><circle cx="545.500" cy="798.500" r="2"/>
<!-- 16 arc -->
<path d="M568.800 814.200L582 799.800M584.500 800.200Q587.500 806 584.500 812.200M569.300 816.500Q576 819.500 581.700 815.500"/><circle cx="583.500" cy="798.200" r="2"/><circle cx="567.200" cy="815.750" r="2"/><circle cx="583.500" cy="814.250" r="2"/>
<!-- 17 curve -->
<path d="M604.700 813.600L608.700 805.400M611 801.700Q614.500 799.500 619.400 798.900"/><circle cx="604.250" cy="815.750" r="2"/><circle cx="609.500" cy="803.300" r="2"/><circle cx="621.500" cy="798.500" r="2"/>
<!-- 18 brush -->
<path d="M639.500 815.750L645.500 807.500Q651.500 804.500 654.300 807.700Q654.300 813.500 648 815.750zM654.500 800Q654.800 804 658 803.800Q660.500 802.500 663.500 799.500"/>
</svg>

<!-- bottom -->
<div id="bottom"></div><div id="strip"></div>
<div class="rg" style="left:2px">1D</div><div class="rg" style="left:30px">5D</div><div class="rg" style="left:59px">1M</div><div class="rg" style="left:88px">3M</div><div class="rg" style="left:117px">6M</div><div class="rg" style="left:150px">YTD</div><div class="rg" style="left:182px">1Y</div><div class="rg" style="left:209px">5Y</div><div class="rg" style="left:237px">All</div>
<div class="abs" style="left:276.5px;top:866px;width:1px;height:22px;background:#4a4a4a"></div>
<svg class="abs" style="left:288px;top:865px" width="24" height="24" viewBox="0 0 24 24" fill="none" stroke="#dbdbdb" stroke-width="1.200"><path d="M4 11.500V6.500Q4 4.500 6 4.500H18Q20 4.500 20 6.500V18Q20 20 18 20H11.500M4 8.500H20M8 2.500V6M16 2.500V6M3 16H9.500M7 13.300L9.700 16L7 18.700"/></svg>
<div id="clock">11:56:33 UTC+7</div>
</body></html>
